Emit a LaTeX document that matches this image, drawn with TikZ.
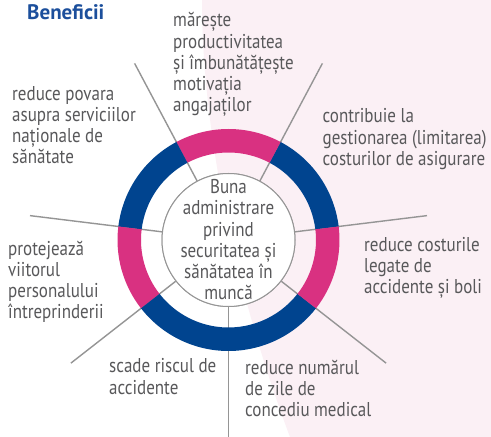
\documentclass[tikz,border=0pt]{standalone}
\usepackage{fontspec}
\setmainfont{PT Sans}[FakeStretch=0.85]
\newfontfamily\titlefont{PT Sans}
\usetikzlibrary{calc}
\definecolor{ringblue}{HTML}{00448F}
\definecolor{ringmag}{HTML}{D93181}
\definecolor{bgpink}{HTML}{FBF0F5}
\definecolor{txtgray}{HTML}{58585A}
\definecolor{spokegray}{HTML}{959595}
\definecolor{titleblue}{HTML}{1C4F9C}
\newcommand\ringseg[3]{\fill[#1] ([shift={(#2:111)}]c) arc[start angle=#2,end angle=#3,radius=111] -- ([shift={(#3:87.5)}]c) arc[start angle=#3,end angle=#2,radius=87.5] -- cycle;}
\begin{document}
\begin{tikzpicture}[x=1pt,y=1pt,
  lbl/.style={anchor=base west, align=left, inner sep=0pt, text=txtgray, font=\fontsize{20}{21.3}\selectfont},
  spoke/.style={draw=spokegray, line width=1.4pt},
  hubstyle/.style={circle, draw=spokegray, line width=1pt, fill=white, minimum size=133pt, inner sep=0pt}]
\useasboundingbox (0,0) rectangle (491,437);
\fill[white] (0,0) rectangle (491,437);
\fill[bgpink] (202,437) .. controls (202,307) and (235,147) .. (290,0) -- (491,0) -- (491,437) -- cycle;
\coordinate (c) at (228.5,197);
\node[hubstyle] (hub) at (c) {};
\foreach \a/\n in {118/1,62/2,7/3,-38/4,-90/5,218/6,173/7}{
  \coordinate (o\n) at ([shift={(\a:200)}]c);
  \draw[spoke] (hub.\a) -- (o\n);
}
\ringseg{ringblue}{7}{62}
\ringseg{ringmag}{62}{118}
\ringseg{ringblue}{118}{173}
\ringseg{ringmag}{173}{218}
\ringseg{ringblue}{218}{322}
\ringseg{ringmag}{322}{367}
\node[hubstyle] (hubc) at (c) {};
% multi-line nodes: base anchor = baseline of the last line
\node[lbl, anchor=base, align=center] (hubtext) at (228.5,137) {Buna\\administrare\\privind\\securitatea și\\sănătatea în\\muncă};
\node[anchor=base west, inner sep=0pt, text=titleblue, font=\titlefont\bfseries\fontsize{21}{24}\selectfont] (title) at (27,417) {Beneficii};
\node[lbl] (tA) at (173,325) {mărește\\productivitatea\\și îmbunătățește\\motivația\\angajaților};
\node[lbl] (tB) at (12,273) {reduce povara\\asupra serviciilor\\naționale de\\sănătate};
\node[lbl] (tC) at (322.5,271.5) {contribuie la\\gestionarea (limitarea)\\costurilor de asigurare};
\node[lbl] (tD) at (364,143) {reduce costurile\\legate de\\accidente și boli};
\node[lbl] (tE) at (245,20) {reduce numărul\\de zile de\\concediu medical};
\node[lbl] (tF) at (109,42.7) {scade riscul de\\accidente};
\node[lbl] (tG) at (8,118) {protejează\\viitorul\\personalului\\întreprinderii};
\end{tikzpicture}
\end{document}
